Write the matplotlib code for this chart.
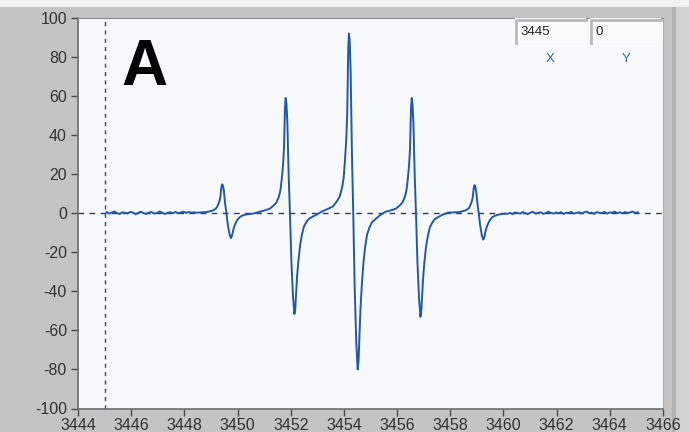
import numpy as np
import matplotlib
matplotlib.use("Agg")
import matplotlib.pyplot as plt
from matplotlib.patches import Rectangle
from matplotlib.lines import Line2D

# ---------------- data ----------------
x_ticks = [3444, 3446, 3448, 3450, 3452, 3454, 3456, 3458, 3460, 3462, 3464, 3466]
y_ticks = [-100, -80, -60, -40, -20, 0, 20, 40, 60, 80, 100]

cursor_x = 3445
cursor_y = 0
cursor_x_label = "3445"
cursor_y_label = "0"
panel_label = "A"

# field positions of the positive maxima of the five lines (G)
line_centers = [3449.42, 3451.81, 3454.19, 3456.55, 3458.91]
# sampling offsets (G) around each line maximum
sample_offsets = [-1.0, -0.83, -0.60, -0.45, -0.35, -0.26, -0.20, -0.15, -0.10, -0.064,
                  -0.026, 0.0, 0.03, 0.064, 0.113, 0.162, 0.215, 0.275, 0.328, 0.36,
                  0.388, 0.43, 0.478, 0.54, 0.602, 0.68, 0.764, 0.87, 0.979, 1.15]
line1 = [0.3, 0.4, 0.6, 1.0, 1.4, 2.1, 2.9, 4.4, 6.2, 8.5, 13.5, 14.8, 14.2, 11.8, 5.0,
         0.0, -6.0, -10.5, -12.7, -12.0, -10.5, -8.0, -6.0, -4.2, -2.9, -1.8, -1.2, -0.7, -0.5, -0.2]
line2 = [0.7, 1.3, 2.3, 4.0, 5.4, 8.3, 11.5, 17.3, 24.3, 33.0, 54.0, 59.0, 56.0, 46.0, 19.0,
         -0.3, -24.5, -42.5, -51.6, -49.0, -42.5, -32.0, -24.5, -16.8, -11.6, -7.1, -4.8, -2.9, -2.0, -0.8]
line3 = [1.0, 2.0, 3.5, 6.2, 8.5, 13.0, 18.0, 27.0, 38.0, 52.0, 85.0, 92.0, 88.0, 72.0, 30.0,
         -0.5, -38.0, -66.0, -80.0, -76.0, -66.0, -50.0, -38.0, -26.0, -18.0, -11.0, -7.5, -4.5, -3.2, -1.2]
line4 = [0.7, 1.3, 2.3, 4.0, 5.4, 8.3, 11.5, 17.3, 24.3, 33.0, 54.0, 59.0, 56.0, 46.0, 19.0,
         -0.3, -25.0, -43.5, -53.0, -50.0, -43.5, -33.0, -25.0, -17.0, -12.0, -7.3, -5.0, -3.0, -2.1, -0.8]
line5 = [0.3, 0.4, 0.6, 1.0, 1.4, 2.1, 2.8, 4.3, 6.0, 8.2, 13.0, 14.4, 13.8, 11.4, 4.8,
         0.0, -6.3, -11.2, -13.5, -12.8, -11.2, -8.5, -6.4, -4.5, -3.1, -1.9, -1.3, -0.8, -0.5, -0.2]

# baseline (noise) before the first line and after the last line
baseline_left_range = (3445.07, 3448.37)
baseline_left = [0.6, -0.2, 0.4, 0.9, 0.1, -0.4, 0.5, 0.2, -0.1, 0.7, 0.3, -0.5, 0.2, 0.8, 0.0,
                 -0.3, 0.4, 0.6, -0.2, 0.1, 0.9, 0.3, -0.4, 0.2, 0.5, 0.0, 0.7, -0.1, 0.4, 0.8,
                 0.2, 0.6, 0.3, 0.5]
baseline_right_range = (3460.15, 3465.05)
baseline_right = [-0.3, 0.2, -0.5, 0.4, 0.1, -0.2, 0.6, 0.0, -0.4, 0.3, 0.7, -0.1, 0.2, 0.5,
                  -0.3, 0.1, 0.8, 0.2, -0.2, 0.4, 0.0, 0.6, -0.4, 0.3, 0.1, 0.7, -0.2, 0.2,
                  0.5, -0.1, 0.4, 0.9, 0.0, 0.3, -0.3, 0.6, 0.2, 0.1, 0.7, -0.2, 0.4, 0.3,
                  0.8, 0.0, 0.5, -0.1, 0.6, 0.2, 0.4, 0.9, 0.1, 0.5]

# ---------------- assemble the trace ----------------
lines = [line1, line2, line3, line4, line5]
field = list(np.linspace(*baseline_left_range, len(baseline_left)))
signal = list(baseline_left)
for c, vals in zip(line_centers, lines):
    field += [c + o for o in sample_offsets]
    signal += vals
field += list(np.linspace(*baseline_right_range, len(baseline_right)))
signal += baseline_right

# ---------------- figure ----------------
W, H = 689, 432
fig = plt.figure(figsize=(W / 100, H / 100), dpi=100)
fig.patch.set_facecolor("#c4c4c4")


def fx(x):
    return x / W


def fy(y):
    return 1 - y / H


# frame decorations
fig.add_artist(Rectangle((0, fy(7)), 1, 7 / H, transform=fig.transFigure,
                         facecolor="#f1f1f1", edgecolor="none", zorder=0))
fig.add_artist(Rectangle((fx(676), 0), 13 / W, fy(7), transform=fig.transFigure,
                         facecolor="#d2d2d2", edgecolor="none", zorder=0))
fig.add_artist(Rectangle((fx(672), 0), 4 / W, fy(7), transform=fig.transFigure,
                         facecolor="#b4b4b4", edgecolor="none", zorder=0))

ax = fig.add_axes([fx(78), fy(408.5), fx(663) - fx(78), fy(18) - fy(408.5)])
ax.set_facecolor("#f8f9fa")

ax.plot(field, signal, color="#2356ad", lw=1.4, zorder=3, solid_joinstyle="round")
ax.axhline(cursor_y, color="#1f3f7a", lw=1.0, ls=(0, (4, 4)), zorder=2)
ax.axvline(cursor_x, color="#2a4a85", lw=1.0, ls=(0, (3, 3)), zorder=2)

ax.set_xlim(3444, 3466)
ax.set_ylim(-100, 100)
ax.set_xticks(x_ticks)
ax.set_yticks(y_ticks)
ax.set_xticklabels([str(t) for t in x_ticks])
ax.set_yticklabels([str(t) for t in y_ticks])

for lab in ax.get_xticklabels() + ax.get_yticklabels():
    lab.set_fontfamily("Liberation Sans")
    lab.set_fontsize(11.5)
    lab.set_color("#333333")

ax.tick_params(axis="both", direction="out", length=5, width=1, color="#4a4a4a")
ax.tick_params(axis="x", pad=1.5)
ax.tick_params(axis="y", pad=3)

for side in ["left", "bottom"]:
    ax.spines[side].set_color("#6e6e6e")
    ax.spines[side].set_linewidth(1.2)
ax.spines["top"].set_color("#8c8c8c")
ax.spines["right"].set_color("#b0b0b0")

# panel label
fig.text(fx(121), fy(85), panel_label, fontfamily="Liberation Sans", fontweight="bold",
         fontsize=46, color="black", ha="left", va="baseline")

# cursor readout boxes
for (x0, x1), txt, name, xc in [((515, 586), cursor_x_label, "X", 550),
                                ((590, 661), cursor_y_label, "Y", 626)]:
    fig.add_artist(Rectangle((fx(x0), fy(43)), (x1 - x0) / W, 25 / H,
                             transform=fig.transFigure, facecolor="#fbfbfb",
                             edgecolor="none", zorder=5))
    fig.add_artist(Line2D([fx(x0 + 1), fx(x0 + 1), fx(x1)], [fy(43), fy(19.5), fy(19.5)],
                          transform=fig.transFigure, color="#b8b8b8", lw=2.0, zorder=6))
    fig.text(fx(x0 + 5), fy(32), txt, fontfamily="Liberation Sans", fontsize=9.5,
             color="#222222", ha="left", va="center", zorder=7)
    fig.text(fx(xc), fy(59), name, fontfamily="Liberation Sans", fontsize=9.5,
             color="#3a5cc0", ha="center", va="center", zorder=7)

fig.savefig("out.png", dpi=100, facecolor=fig.get_facecolor())
